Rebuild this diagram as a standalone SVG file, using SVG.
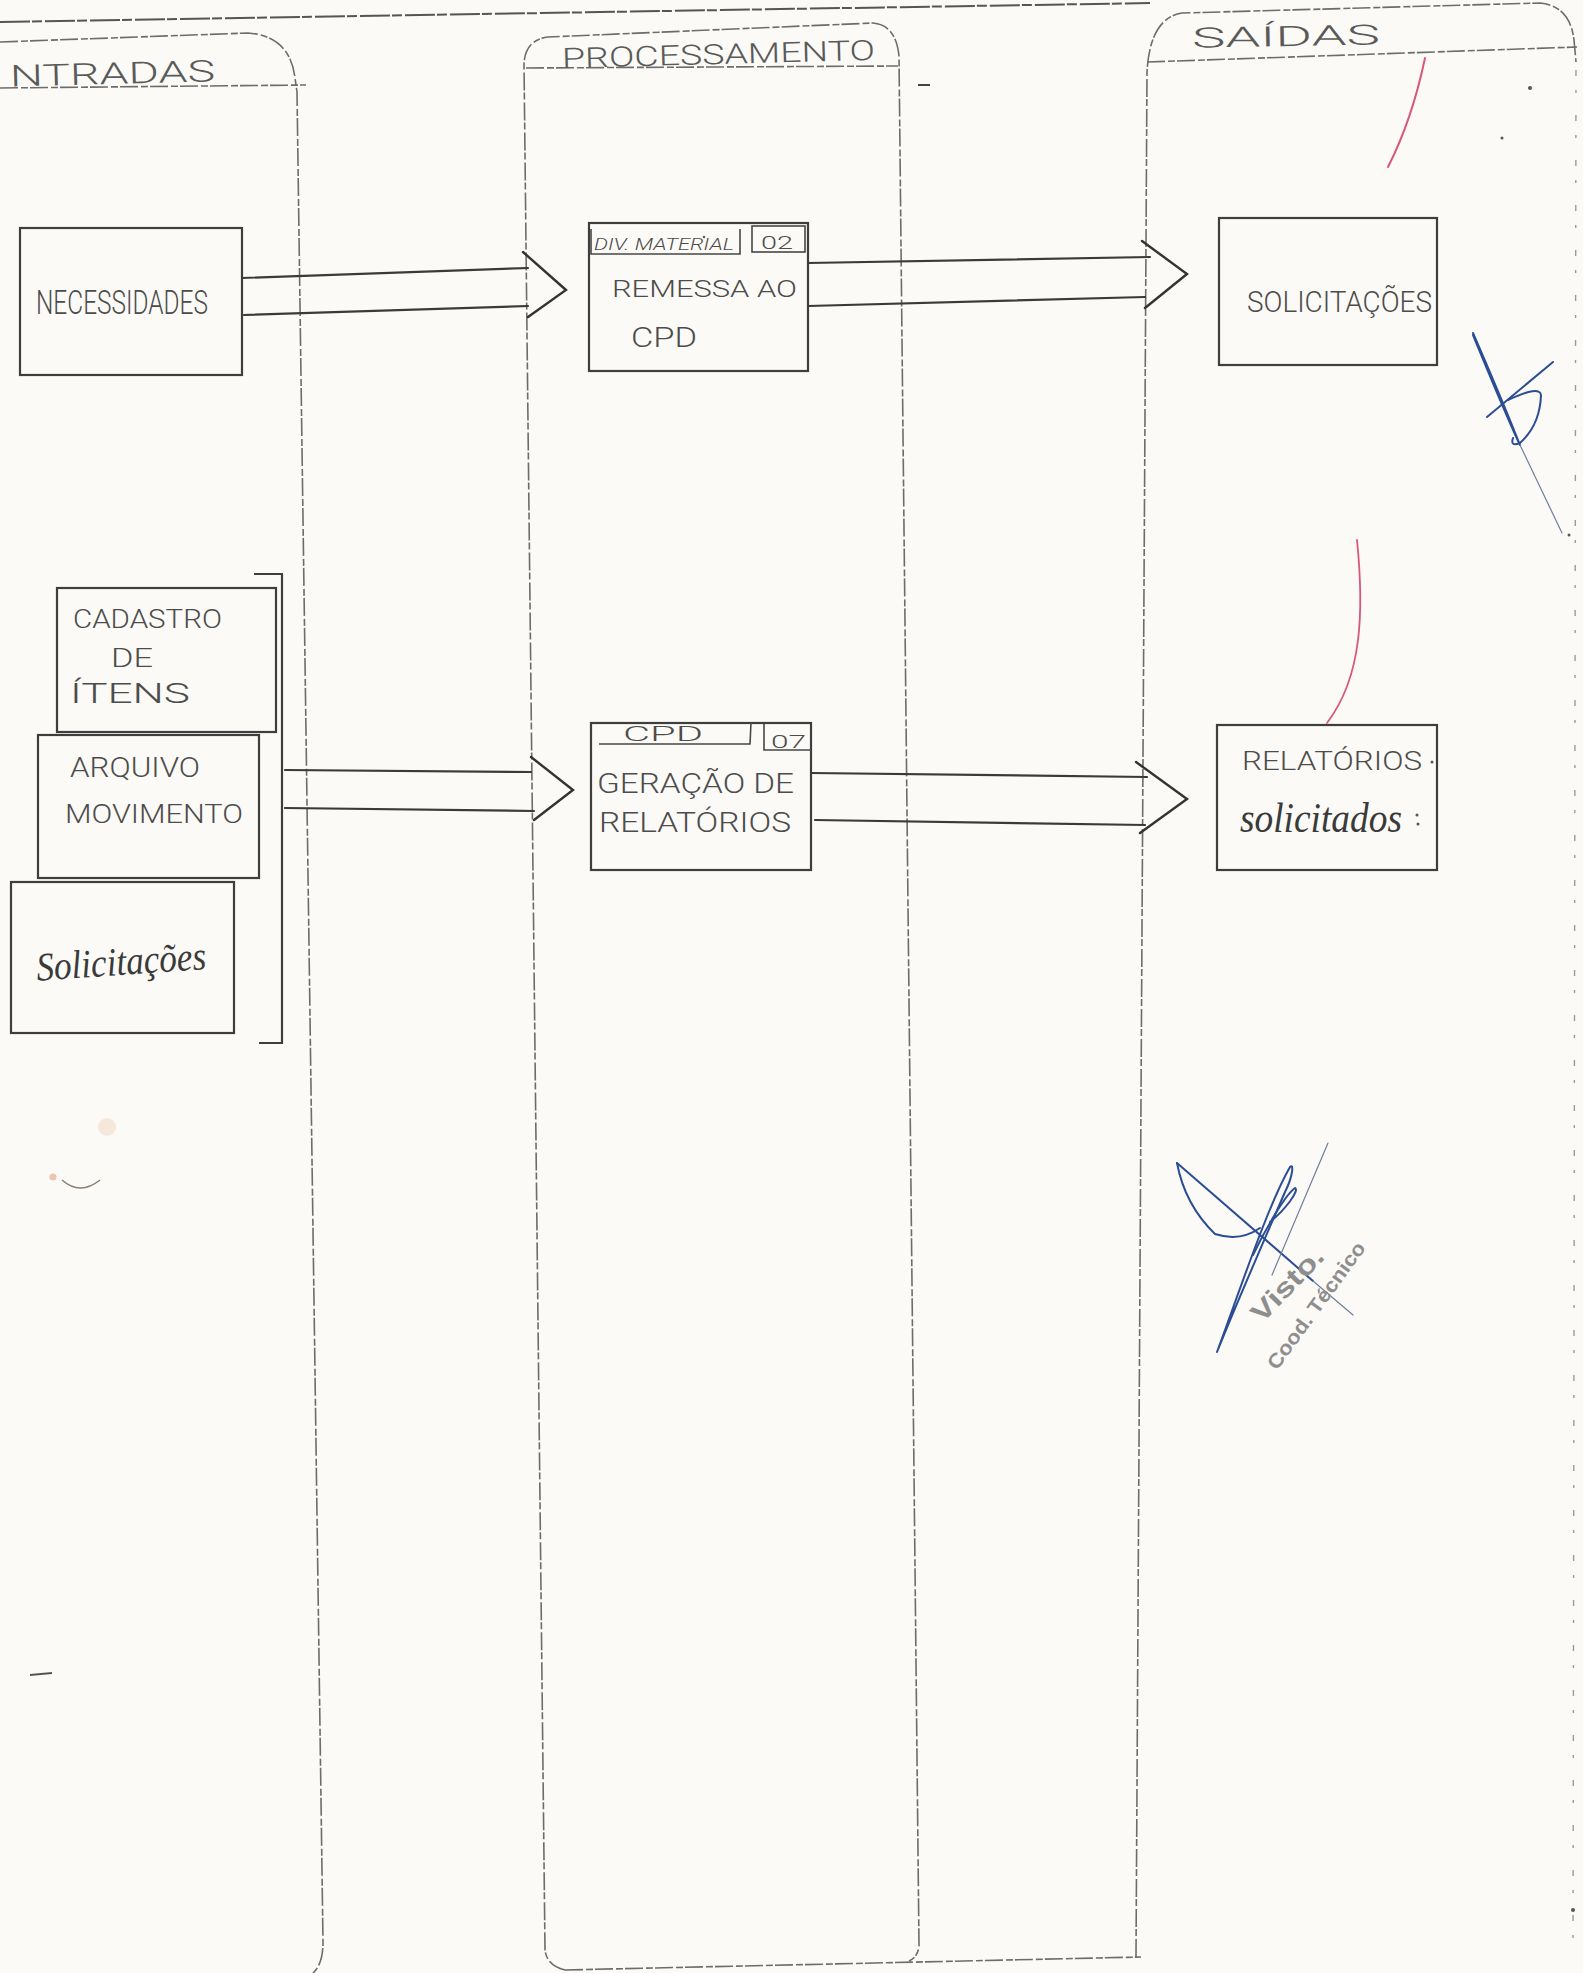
<svg xmlns="http://www.w3.org/2000/svg" width="1583" height="1973" viewBox="0 0 1583 1973">
<defs>
<style>
.paper{fill:#fbfaf6}
.lane{fill:none;stroke:#6c6c6c;stroke-width:1.6;stroke-dasharray:18 3 7 2}
.faint{fill:none;stroke:#9a9a9a;stroke-width:1.4;stroke-dasharray:6 14 3 22}
.frame{fill:none;stroke:#555;stroke-width:2;stroke-dasharray:30 2 10 3}
.box{fill:none;stroke:#3e3e3e;stroke-width:2.2}
.cell{fill:none;stroke:#474747;stroke-width:1.6}
.flow{fill:none;stroke:#3a3a3a;stroke-width:2.2;stroke-linecap:round}
.head{fill:none;stroke:#333;stroke-width:2.4;stroke-linejoin:miter;stroke-linecap:round}
.t{font-family:"Roboto","Liberation Sans","DejaVu Sans",sans-serif;font-weight:300;fill:#4c4c4c}
.h{font-family:"Roboto","Liberation Sans","DejaVu Sans",sans-serif;font-weight:300;fill:#5a5a5a}
.c{font-family:"Liberation Serif","DejaVu Serif",serif;font-style:italic;fill:#3a3a3a}
.ink{fill:none;stroke:#2b4d94;stroke-width:2;stroke-linecap:round;stroke-linejoin:round}
.inkthin{fill:none;stroke:#6f7f9f;stroke-width:1.2;stroke-linecap:round}
.red{fill:none;stroke:#d9577a;stroke-linecap:round}
.stamp{font-family:"Liberation Sans","DejaVu Sans",sans-serif;fill:#8e8e8e;font-weight:bold}
.speck{fill:#555}
</style>
</defs>

<rect class="paper" x="0" y="0" width="1583" height="1973"/>

<!-- swimlanes -->
<g id="lanes">
  <path class="frame" d="M0,22 L1150,3"/>
  <!-- ENTRADAS -->
  <path class="lane" d="M0,42 L248,33 Q290,36 295,78 L297,92 L323,1942 Q323,1964 313,1973"/>
  <path class="lane" d="M0,88 L306,85"/>
  <!-- PROCESSAMENTO -->
  <path class="lane" d="M565,1970 Q547,1966 545,1950 L524,64 Q525,40 548,37 L873,23 Q896,25 899,56 L919,1946 Q918,1957 909,1961"/>
  <path class="lane" d="M526,68 L898,66"/>
  <path class="lane" d="M565,1970 L1141,1957"/>
  <!-- SAIDAS -->
  <path class="lane" d="M1136,1957 L1147,72 Q1150,18 1182,13 L1540,3 Q1570,6 1574,40 L1576,62"/>
  <path class="lane" d="M1147,62 L1577,47"/>
  <path class="faint" d="M1576,70 L1573,1960"/>
  <text class="h" x="10" y="84" font-size="30" textLength="205" lengthAdjust="spacingAndGlyphs" transform="rotate(-1.5 110 75)">NTRADAS</text>
  <text class="h" x="562" y="64" font-size="28" textLength="313" lengthAdjust="spacingAndGlyphs" transform="rotate(-1.5 718 55)">PROCESSAMENTO</text>
  <text class="h" x="1192" y="46" font-size="28" textLength="188" lengthAdjust="spacingAndGlyphs" transform="rotate(-1 1286 36)">SAÍDAS</text>
</g>

<!-- inputs -->
<g id="necessidades">
  <rect class="box" x="20" y="228" width="222" height="147"/>
  <text class="t" x="36" y="314" font-size="33" textLength="172" lengthAdjust="spacingAndGlyphs">NECESSIDADES</text>
</g>

<g id="cadastro-itens">
  <rect class="box" x="57" y="588" width="219" height="144"/>
  <text class="t" x="73" y="628" font-size="25" textLength="149" lengthAdjust="spacingAndGlyphs">CADASTRO</text>
  <text class="t" x="111" y="667" font-size="25" textLength="42" lengthAdjust="spacingAndGlyphs">DE</text>
  <text class="t" x="70" y="703" font-size="27" textLength="120" lengthAdjust="spacingAndGlyphs">ÍTENS</text>
</g>

<g id="arquivo-movimento">
  <rect class="box" x="38" y="735" width="221" height="143"/>
  <text class="t" x="70" y="777" font-size="27" textLength="130" lengthAdjust="spacingAndGlyphs">ARQUIVO</text>
  <text class="t" x="65" y="823" font-size="26" textLength="178" lengthAdjust="spacingAndGlyphs">MOVIMENTO</text>
</g>

<g id="solicitacoes-entrada">
  <rect class="box" x="11" y="882" width="223" height="151"/>
  <text class="c" x="36" y="975" font-size="40" textLength="170" lengthAdjust="spacingAndGlyphs" transform="rotate(-4 120 960)">Solicitações</text>
</g>

<g id="grupo-entradas">
  <path class="box" d="M254,574 L282,574 L282,1043 L259,1043"/>
</g>

<!-- processes -->
<g id="remessa-cpd">
  <rect class="box" x="589" y="223" width="219" height="148"/>
  <path class="cell" d="M591,229 L591,254 L740,254 L740,229"/>
  <rect class="cell" x="752" y="226" width="53" height="26"/>
  <text class="t" x="594" y="250" font-size="17" font-style="italic" textLength="140" lengthAdjust="spacingAndGlyphs">DIV. MATERIAL</text>
  <text class="t" x="761" y="249" font-size="19" textLength="32" lengthAdjust="spacingAndGlyphs">02</text>
  <text class="t" x="612" y="297" font-size="24" textLength="185" lengthAdjust="spacingAndGlyphs">REMESSA AO</text>
  <text class="t" x="631" y="347" font-size="27" textLength="66" lengthAdjust="spacingAndGlyphs">CPD</text>
</g>

<g id="geracao-relatorios">
  <rect class="box" x="591" y="723" width="220" height="147"/>
  <path class="cell" d="M599,744 L750,744 L751,723"/>
  <path class="cell" d="M764,724 L764,750 L811,750"/>
  <text class="t" x="623" y="741" font-size="21" textLength="80" lengthAdjust="spacingAndGlyphs">CPD</text>
  <text class="t" x="771" y="748" font-size="18" textLength="35" lengthAdjust="spacingAndGlyphs">07</text>
  <text class="t" x="597" y="793" font-size="27" textLength="197" lengthAdjust="spacingAndGlyphs">GERAÇÃO DE</text>
  <text class="t" x="599" y="832" font-size="27" textLength="192" lengthAdjust="spacingAndGlyphs">RELATÓRIOS</text>
</g>

<!-- outputs -->
<g id="solicitacoes-saida">
  <rect class="box" x="1219" y="218" width="218" height="147"/>
  <text class="t" x="1247" y="312" font-size="29" textLength="185" lengthAdjust="spacingAndGlyphs">SOLICITAÇÕES</text>
</g>

<g id="relatorios-solicitados">
  <rect class="box" x="1217" y="725" width="220" height="145"/>
  <text class="t" x="1242" y="770" font-size="25" textLength="180" lengthAdjust="spacingAndGlyphs">RELATÓRIOS</text>
  <text class="c" x="1240" y="832" font-size="42" textLength="162" lengthAdjust="spacingAndGlyphs">solicitados</text>
  <circle class="speck" cx="1432" cy="762" r="1.5"/>
  <circle class="speck" cx="1417" cy="815" r="1.5"/>
  <circle class="speck" cx="1418" cy="824" r="1.5"/>
</g>

<!-- flow arrows: double shaft with open head -->
<g id="connectors">
  <path class="flow" d="M242,278 L528,268 M244,315 L528,306"/>
  <path class="head" d="M523,252 L566,290 L528,317"/>
  <path class="flow" d="M808,263 L1150,257 M808,306 L1145,297"/>
  <path class="head" d="M1142,241 L1187,274 L1145,308"/>
  <path class="flow" d="M285,770 L531,772 M285,808 L534,811"/>
  <path class="head" d="M531,757 L573,790 L534,820"/>
  <path class="flow" d="M811,773 L1147,777 M815,820 L1145,825"/>
  <path class="head" d="M1136,762 L1187,799 L1140,833"/>
</g>

<!-- review marks -->
<g id="marcas">
  <path class="red" stroke-width="2" d="M1425,58 Q1412,120 1388,167"/>
  <path class="red" stroke-width="1.8" d="M1357,540 Q1363,600 1358,640 Q1352,690 1327,723"/>
  <!-- initials -->
  <path class="ink" d="M1473,333 Q1500,395 1520,445 Q1508,420 1473,335"/>
  <path class="inkthin" d="M1520,445 L1562,533"/>
  <path class="ink" d="M1487,417 L1553,362"/>
  <path class="ink" d="M1508,400 Q1540,385 1541,395 Q1540,425 1520,443 Q1510,447 1513,438"/>
  <!-- signature -->
  <path class="ink" d="M1177,1163 L1313,1281"/>
  <path class="inkthin" d="M1313,1281 L1353,1315"/>
  <path class="ink" d="M1177,1163 Q1185,1205 1215,1234 Q1240,1242 1260,1228"/>
  <path class="ink" d="M1217,1352 C1240,1290 1268,1205 1290,1167 C1294,1163 1293,1176 1285,1192 C1262,1245 1238,1300 1217,1352"/>
  <path class="ink" d="M1253,1255 C1265,1230 1285,1195 1295,1188 C1300,1190 1285,1210 1270,1222"/>
  <path class="inkthin" d="M1328,1143 L1272,1275"/>
  <text class="stamp" font-size="27" textLength="92" lengthAdjust="spacingAndGlyphs" transform="translate(1262,1324) rotate(-46)">Visto.</text>
  <text class="stamp" font-size="20" font-weight="normal" textLength="152" lengthAdjust="spacingAndGlyphs" transform="translate(1277,1371) rotate(-54)">Cood. Técnico</text>
  <!-- stray specks -->
  <path d="M62,1180 Q80,1196 100,1180" fill="none" stroke="#8a8070" stroke-width="1.5"/>
  <circle cx="53" cy="1177" r="3.5" fill="#e9b69a" opacity="0.8"/>
  <circle cx="107" cy="1127" r="9" fill="#f2dcc8" opacity="0.6"/>
  <path d="M30,1675 L52,1673" stroke="#555" stroke-width="2"/>
  <path d="M918,85 L930,85" stroke="#444" stroke-width="2"/>
  <circle class="speck" cx="1530" cy="88" r="2"/>
  <circle class="speck" cx="1502" cy="138" r="1.5"/>
  <circle class="speck" cx="1569" cy="535" r="1.5"/>
  <circle class="speck" cx="1573" cy="1910" r="2"/>
  <circle class="speck" cx="704" cy="237" r="1.2"/>
</g>
</svg>
